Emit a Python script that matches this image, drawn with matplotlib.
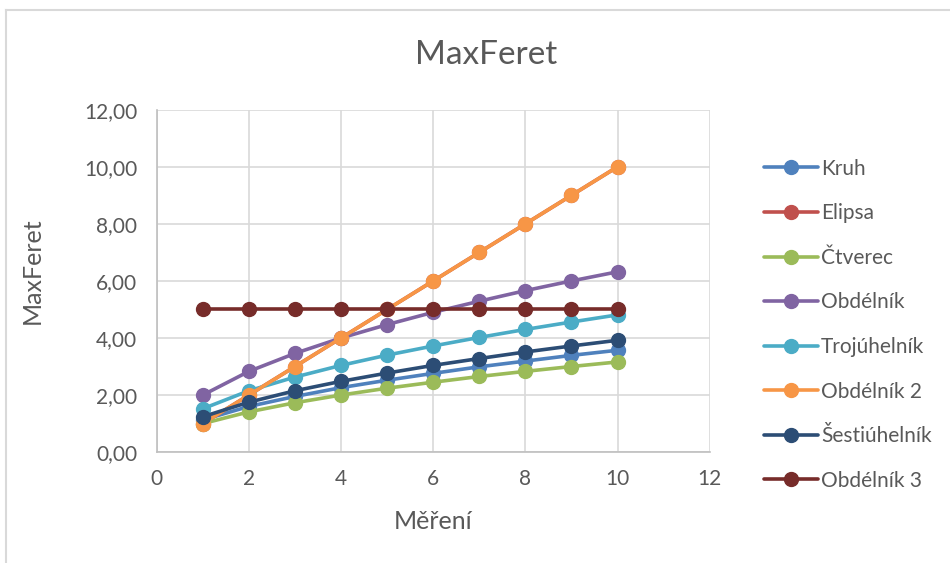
import matplotlib
matplotlib.use("Agg")
import matplotlib.pyplot as plt
from matplotlib.lines import Line2D
from matplotlib.ticker import FuncFormatter

plt.rcParams['font.family'] = ['Lato', 'DejaVu Sans']

# measurement index
mereni = [1, 2, 3, 4, 5, 6, 7, 8, 9, 10]

kruh = [1.13, 1.60, 1.95, 2.26, 2.52, 2.76, 2.99, 3.19, 3.39, 3.57]
elipsa = [1.00, 2.00, 3.00, 4.00, 5.00, 6.00, 7.00, 8.00, 9.00, 10.00]
ctverec = [1.00, 1.41, 1.73, 2.00, 2.24, 2.45, 2.65, 2.83, 3.00, 3.16]
obdelnik = [2.00, 2.83, 3.46, 4.00, 4.47, 4.90, 5.29, 5.66, 6.00, 6.32]
trojuhelnik = [1.52, 2.15, 2.63, 3.04, 3.40, 3.72, 4.02, 4.30, 4.56, 4.81]
obdelnik2 = [1.00, 2.00, 3.00, 4.00, 5.00, 6.00, 7.00, 8.00, 9.00, 10.00]
sestiuhelnik = [1.24, 1.75, 2.15, 2.48, 2.77, 3.04, 3.28, 3.51, 3.72, 3.92]
obdelnik3 = [5.00, 5.00, 5.00, 5.00, 5.00, 5.00, 5.00, 5.00, 5.00, 5.00]

series = [
    ('Kruh', kruh, '#4F81BD'),
    ('Elipsa', elipsa, '#C0504D'),
    ('Čtverec', ctverec, '#9BBB59'),
    ('Obdélník', obdelnik, '#8064A2'),
    ('Trojúhelník', trojuhelnik, '#4BACC6'),
    ('Obdélník 2', obdelnik2, '#F79646'),
    ('Šestiúhelník', sestiuhelnik, '#2C4D75'),
    ('Obdélník 3', obdelnik3, '#772C2A'),
]

txt = '#595959'

fig = plt.figure(figsize=(9.5, 5.63), dpi=100)
ax = fig.add_axes([0.165, 0.197, 0.582, 0.608])

for name, vals, col in series:
    ax.plot(mereni, vals, color=col, lw=2.6, marker='o', markersize=10,
            label=name, solid_capstyle='round')

ax.set_xlim(0, 12)
ax.set_ylim(0, 12)
ax.set_xticks(range(0, 13, 2))
ax.set_yticks(range(0, 13, 2))
ax.yaxis.set_major_formatter(FuncFormatter(lambda v, p: ('%.2f' % v).replace('.', ',')))
ax.grid(True, color='#D9D9D9', lw=1.2)
ax.set_axisbelow(True)
for s in ['top', 'right']:
    ax.spines[s].set_visible(False)
for s in ['left', 'bottom']:
    ax.spines[s].set_color('#BFBFBF')
    ax.spines[s].set_linewidth(1.2)
ax.tick_params(length=0, labelsize=15, labelcolor=txt)
ax.tick_params(axis='y', pad=14)
ax.tick_params(axis='x', pad=12)

fig.text(0.512, 0.902, 'MaxFeret', fontsize=24, color=txt, ha='center', va='center')
ax.set_xlabel('Měření', fontsize=18, color=txt)
ax.set_ylabel('MaxFeret', fontsize=18, color=txt)
ax.xaxis.set_label_coords(0.5, -0.17)
ax.yaxis.set_label_coords(-0.205, 0.53)

leg = ax.legend(loc='upper left', bbox_to_anchor=(0.795, 0.733), bbox_transform=fig.transFigure,
                frameon=False, fontsize=15, labelspacing=1.18, handlelength=2.6,
                handletextpad=0.15, borderaxespad=0)
for t in leg.get_texts():
    t.set_color(txt)

# chart border (top and left visible)
fig.add_artist(Line2D([0.0065, 0.0065], [0, 0.982], transform=fig.transFigure, color='#D9D9D9', lw=1.5))
fig.add_artist(Line2D([0.0065, 1], [0.982, 0.982], transform=fig.transFigure, color='#D9D9D9', lw=1.5))

fig.savefig('out.png', dpi=100)
